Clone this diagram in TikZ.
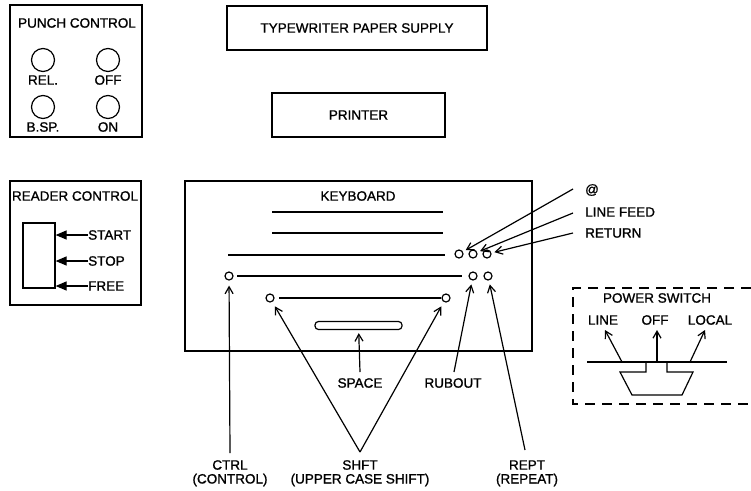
\documentclass[tikz,border=0pt]{standalone}
\usepackage{fontspec}
\setmainfont{Liberation Sans}[FakeBold=1.2]
\usetikzlibrary{arrows.meta}
\begin{document}
\begin{tikzpicture}[x=1pt,y=-1pt,
  font=\fontsize{13.5}{15}\selectfont,
  panel/.style={draw,line width=1.7pt},
  lbl/.style={inner sep=0pt,anchor=center},
  lamp/.style={draw,circle,line width=1.2pt,minimum size=23pt,inner sep=0pt},
  keyhole/.style={draw,circle,line width=1.2pt,minimum size=8pt,inner sep=0pt},
  keyrow/.style={line width=1.3pt},
  pointer/.style={line width=1.2pt,-{Straight Barb[length=7pt,width=8pt]},shorten >=3pt},
  solid tip/.style={line width=1.2pt,-{Triangle[length=11pt,width=9pt]}}]
\useasboundingbox (0,0) rectangle (751,490);

% punch control panel
\draw[panel] (10,5) rectangle (142,137);
\node[lbl] (punchT) at (77,23) {PUNCH CONTROL};
\node[lamp] (rel) at (43,60) {};
\node[lamp] (poff) at (108,60) {};
\node[lamp] (bsp) at (43,107) {};
\node[lamp] (pon) at (108,107) {};
\node[lbl] (relT) at (43,80) {REL.};
\node[lbl] (poffT) at (108,80) {OFF};
\node[lbl] (bspT) at (43,127) {B.SP.};
\node[lbl] (ponT) at (108,127) {ON};

% reader control panel
\draw[panel] (10,181) rectangle (141,305);
\node[lbl] (readT) at (75,196) {READER CONTROL};
\node[draw,line width=1.2pt,minimum width=32pt,minimum height=65pt,inner sep=0pt] (lever) at (39,255.5) {};
\node[lbl,anchor=west] (start) at (88,235) {START};
\node[lbl,anchor=west] (stop) at (88,261) {STOP};
\node[lbl,anchor=west] (free) at (88,286) {FREE};
\draw[solid tip] (start.west) -- (lever.east |- start.west);
\draw[solid tip] (stop.west) -- (lever.east |- stop.west);
\draw[solid tip] (free.west) -- (lever.east |- free.west);

% paper supply and printer
\node[panel,minimum width=260pt,minimum height=44pt] (paper) at (357,28) {TYPEWRITER PAPER SUPPLY};
\node[panel,minimum width=173pt,minimum height=44pt] (printer) at (358.5,115) {PRINTER};

% keyboard
\draw[panel] (185,181) rectangle (532,351);
\node[lbl] (kbT) at (358,196) {KEYBOARD};
\draw[keyrow] (272,212) -- (443,212);
\draw[keyrow] (272,233) -- (443,233);
\draw[keyrow] (228,255) -- (445,255);
\node[keyhole] (at) at (459,254) {};
\node[keyhole] (lf) at (473,254) {};
\node[keyhole] (ret) at (487,254) {};
\node[keyhole] (ctrl) at (229,276) {};
\draw[keyrow] (237,276) -- (462,276);
\node[keyhole] (rub) at (473,276) {};
\node[keyhole] (rept) at (488,276) {};
\node[keyhole] (shl) at (270,298) {};
\draw[keyrow] (279,298) -- (441,298);
\node[keyhole] (shr) at (446,298) {};
\node[draw,line width=1.2pt,rounded corners=3.5pt,minimum width=87pt,minimum height=8pt,inner sep=0pt] (space) at (358.5,325.5) {};

% key labels
\node[lbl] (atT) at (592,190) {@};
\node[lbl,anchor=west] (lfT) at (585,212) {LINE FEED};
\node[lbl,anchor=west] (retT) at (585,233) {RETURN};
\node[lbl] (spaceT) at (360,383) {SPACE};
\node[lbl] (rubT) at (453,383) {RUBOUT};
\node[lbl] (ctrlT) at (230,465) {CTRL};
\node[lbl] (ctrlT2) at (230,480) {(CONTROL)};
\node[lbl] (shT) at (360,465) {SHFT};
\node[lbl] (shT2) at (360,480) {(UPPER CASE SHIFT)};
\node[lbl] (reptT) at (527,465) {REPT};
\node[lbl] (reptT2) at (527,480) {(REPEAT)};

% pointer tails
\coordinate (atP) at (573,189);
\coordinate (lfP) at (573,213);
\coordinate (retP) at (573,233);
\coordinate (ctrlP) at (230,453);
\coordinate (shP) at (360,452);
\coordinate (spaceP) at (360,372);
\coordinate (rubP) at (454,372);
\coordinate (reptP) at (525,450);

\draw[pointer] (atP) -- (at);
\draw[pointer] (lfP) -- (lf);
\draw[pointer] (retP) -- (ret);
\draw[pointer,shorten >=5pt] (ctrlP) -- (ctrl);
\draw[pointer,shorten >=5pt] (shP) -- (shl);
\draw[pointer,shorten >=5pt] (shP) -- (shr);
\draw[pointer] (spaceP) -- (space);
\draw[pointer,shorten >=4pt] (rubP) -- (rub);
\draw[pointer,shorten >=4pt] (reptP) -- (rept);

% power switch
\draw[line width=1.7pt,dash pattern=on 10pt off 7pt] (751,288) -- (573,288) -- (573,404) -- (751,404);
\node[lbl] (pwT) at (657,298) {POWER SWITCH};
\node[lbl] (lineT) at (603,320) {LINE};
\node[lbl] (offT) at (655,320) {OFF};
\node[lbl] (localT) at (710,320) {LOCAL};
\draw[line width=1.2pt] (587,362) -- (727,362);
\draw[line width=1.2pt] (646,362) -- (646,372) -- (620,372) -- (632,395) -- (682,395) -- (693,372) -- (667,372) -- (667,362);
\coordinate (lineP) at (622,362);
\coordinate (offP) at (657,362);
\coordinate (localP) at (690,362);
\draw[pointer,shorten >=0pt] (lineP) -- (605,330);
\draw[pointer,shorten >=0pt] (offP) -- (657,330);
\draw[pointer,shorten >=0pt] (localP) -- (705,330);
\end{tikzpicture}
\end{document}
